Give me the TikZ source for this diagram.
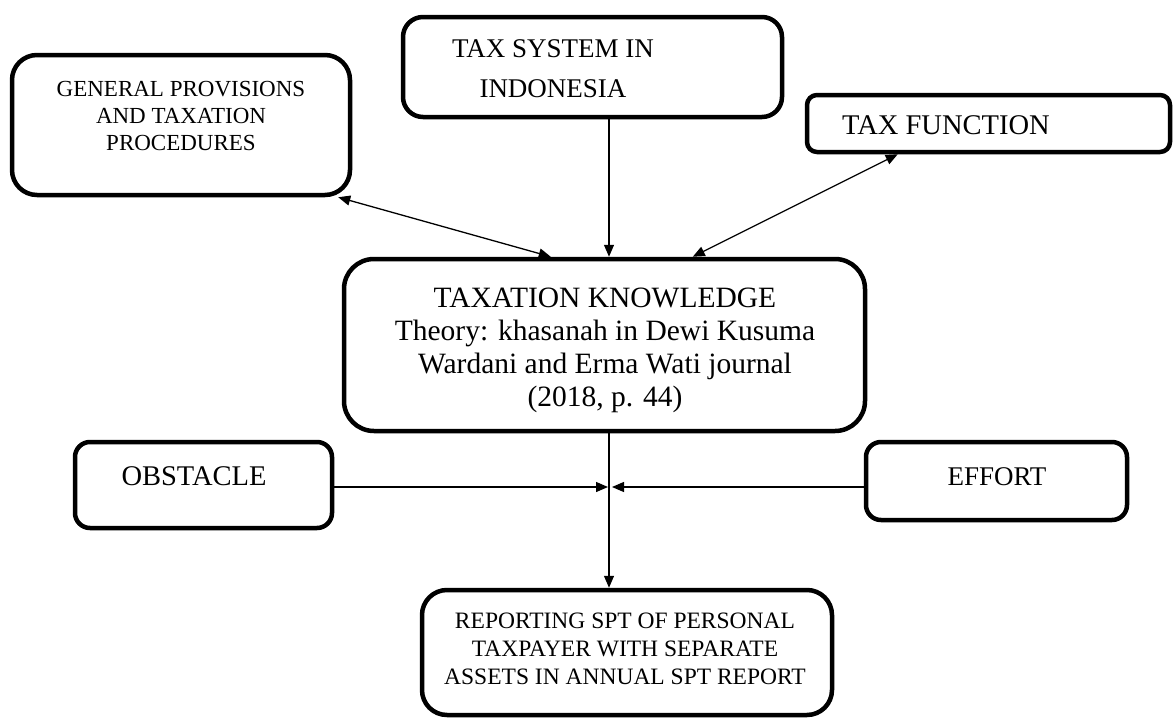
\documentclass[tikz,border=0pt]{standalone}
\usepackage{fontspec}
\setmainfont{Liberation Serif}
\usetikzlibrary{arrows.meta, calc}

\begin{document}
\begin{tikzpicture}[
  x=1pt, y=-1pt,
  line cap=round, line join=round,
  box/.style={draw, line width=4.5pt, inner sep=0pt},
  txt/.style={inner sep=0pt, align=center, anchor=base},
  con/.style={line width=1.3pt, -{Triangle[length=12pt,width=10pt]}},
  biv/.style={line width=1.3pt, {Triangle[length=12pt,width=10pt]}-{Triangle[length=12pt,width=10pt]}}
]
  \useasboundingbox (0,0) rectangle (1176,720);

  % boxes
  \node[box, rounded corners=25pt, minimum width=338pt, minimum height=140pt] (gen) at (181,125) {};
  \node[box, rounded corners=20pt, minimum width=379pt, minimum height=100pt] (sys) at (592.5,67) {};
  \node[box, rounded corners=10pt, minimum width=363pt, minimum height=57pt] (fun) at (988.5,123.5) {};
  \node[box, rounded corners=30pt, minimum width=521pt, minimum height=172pt] (know) at (604.5,345) {};
  \node[box, rounded corners=15pt, minimum width=257pt, minimum height=86pt] (obs) at (203.5,485) {};
  \node[box, rounded corners=15pt, minimum width=261pt, minimum height=78pt] (eff) at (996.5,481) {};
  \node[box, rounded corners=25pt, minimum width=410pt, minimum height=125pt] (rep) at (627,652.5) {};

  % texts (anchored at the baseline of their last line)
  \node[txt, font=\fontsize{23}{27}\selectfont] (genT) at (181,150)
    {GENERAL PROVISIONS\\AND TAXATION\\PROCEDURES};
  \node[txt, font=\fontsize{27}{40}\selectfont] (sysT) at (553,97)
    {TAX SYSTEM IN\\INDONESIA};
  \node[inner sep=0pt, anchor=base west, font=\fontsize{28.5}{33}\selectfont] (funT) at (842,134)
    {TAX FUNCTION};
  \node[txt, font=\fontsize{29.5}{33}\selectfont] (knowT) at (605,406)
    {TAXATION KNOWLEDGE\\Theory: khasanah in Dewi Kusuma\\Wardani and Erma Wati journal\\(2018, p. 44)};
  \node[txt, font=\fontsize{28.5}{33}\selectfont] (obsT) at (194,485) {OBSTACLE};
  \node[txt, font=\fontsize{27}{33}\selectfont] (effT) at (997,485) {EFFORT};
  \node[txt, font=\fontsize{23.5}{28}\selectfont] (repT) at (625,684)
    {REPORTING SPT OF PERSONAL\\TAXPAYER WITH SEPARATE\\ASSETS IN ANNUAL SPT REPORT};

  % meeting point below the knowledge box
  \coordinate (mid) at (609,487);

  % connectors
  \draw[con] (sys.south -| mid) -- (know.north -| mid);
  \draw[biv] ([xshift=209pt]know.north west) -- ([xshift=-14pt]gen.south east);
  \draw[biv] ([xshift=351pt]know.north west) -- ([xshift=93pt]fun.south west);
  \draw[con] (know.south -| mid) -- (rep.north -| mid);
  \draw[con] (obs.east |- mid) -- ([xshift=-1pt]mid);
  \draw[con] (eff.west |- mid) -- ([xshift=3pt]mid);
\end{tikzpicture}
\end{document}
